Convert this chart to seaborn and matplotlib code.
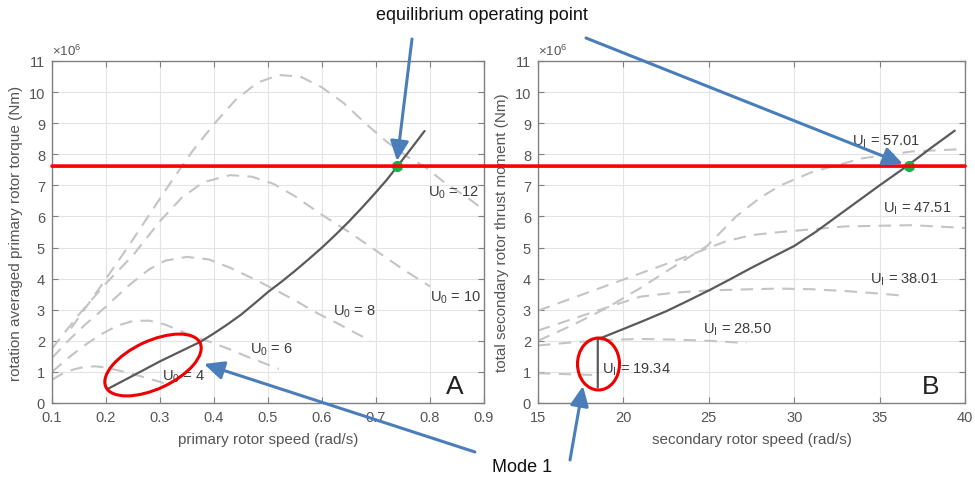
import numpy as np
import pandas as pd
import seaborn as sns
import matplotlib
matplotlib.use("Agg")
import matplotlib.pyplot as plt
from matplotlib.transforms import Affine2D
from matplotlib.patches import Ellipse, FancyArrowPatch, ConnectionPatch

# ---------------- data ----------------
# Panel A: primary rotor torque (x1e6 Nm) vs primary rotor speed (rad/s)
a_u4_x = [0.10, 0.12, 0.14, 0.16, 0.18, 0.20, 0.22, 0.24, 0.26, 0.28, 0.30, 0.31]
a_u4_y = [0.75, 0.95, 1.08, 1.16, 1.18, 1.14, 1.06, 0.97, 0.88, 0.78, 0.68, 0.62]
a_u6_x = [0.10, 0.13, 0.16, 0.19, 0.22, 0.25, 0.28, 0.31, 0.34, 0.37, 0.40, 0.43, 0.46, 0.49, 0.52]
a_u6_y = [1.00, 1.45, 1.85, 2.20, 2.48, 2.64, 2.65, 2.52, 2.30, 2.10, 1.92, 1.72, 1.50, 1.30, 1.10]
a_u8_x = [0.10, 0.13, 0.16, 0.20, 0.24, 0.28, 0.31, 0.35, 0.39, 0.43, 0.47, 0.51, 0.55, 0.59, 0.63, 0.66, 0.69]
a_u8_y = [1.45, 2.00, 2.50, 3.10, 3.75, 4.30, 4.58, 4.70, 4.62, 4.35, 4.02, 3.67, 3.30, 2.90, 2.55, 2.27, 2.00]
a_u10_x = [0.10, 0.15, 0.20, 0.25, 0.30, 0.34, 0.38, 0.43, 0.47, 0.51, 0.55, 0.60, 0.65, 0.70, 0.75, 0.80]
a_u10_y = [1.75, 2.85, 3.85, 4.75, 5.85, 6.60, 7.10, 7.33, 7.28, 7.05, 6.65, 6.05, 5.50, 4.90, 4.30, 3.75]
a_u12_x = [0.135, 0.17, 0.20, 0.24, 0.28, 0.32, 0.36, 0.40, 0.44, 0.48, 0.52, 0.56, 0.60, 0.64, 0.68,
           0.72, 0.76, 0.79, 0.83, 0.87, 0.90]
a_u12_y = [2.40, 3.25, 4.00, 5.00, 6.05, 7.10, 8.10, 8.97, 9.75, 10.30, 10.55, 10.50, 10.15, 9.65, 9.00,
           8.40, 7.90, 7.60, 7.05, 6.60, 6.20]
a_op_x = [0.205, 0.25, 0.30, 0.35, 0.375, 0.40, 0.425, 0.45, 0.475, 0.50, 0.525, 0.55, 0.575,
          0.60, 0.625, 0.65, 0.675, 0.70, 0.72, 0.74, 0.765, 0.79]
a_op_y = [0.47, 0.88, 1.34, 1.76, 1.97, 2.24, 2.53, 2.84, 3.20, 3.57, 3.90, 4.25, 4.62,
          5.00, 5.41, 5.84, 6.30, 6.78, 7.18, 7.62, 8.18, 8.75]
a_labels = ["U$_0$ = 4", "U$_0$ = 6", "U$_0$ = 8", "U$_0$ = 10", "U$_0$ = 12"]
a_label_x = [0.304, 0.467, 0.62, 0.80, 0.796]
a_label_y = [0.88, 1.74, 2.96, 3.40, 6.80]
a_eq = (0.739, 7.62)

# Panel B: total secondary rotor thrust moment (x1e6 Nm) vs secondary rotor speed (rad/s)
b_u19_x = [15.0, 16.5, 18.3]
b_u19_y = [0.96, 0.93, 0.90]
b_u28_x = [15.0, 17.0, 19.0, 21.0, 23.0, 25.0, 27.2]
b_u28_y = [1.85, 1.95, 2.03, 2.06, 2.04, 2.00, 1.93]
b_u38_x = [15.0, 17.0, 18.8, 21.0, 23.0, 25.0, 27.5, 29.2, 31.0, 33.0, 35.0, 36.2]
b_u38_y = [2.33, 2.70, 3.03, 3.42, 3.55, 3.62, 3.66, 3.68, 3.66, 3.60, 3.52, 3.46]
b_u47_x = [15.0, 17.0, 19.0, 21.0, 23.0, 24.9, 26.0, 27.5, 29.2, 33.0, 36.9, 40.0]
b_u47_y = [2.97, 3.37, 3.77, 4.17, 4.57, 4.97, 5.20, 5.40, 5.50, 5.68, 5.72, 5.63]
b_u57_x = [15.0, 17.0, 19.0, 21.0, 23.0, 24.9, 26.6, 28.0, 29.2, 31.1, 34.0, 36.9, 40.0]
b_u57_y = [2.00, 2.50, 3.05, 3.70, 4.40, 5.05, 6.00, 6.60, 7.00, 7.44, 7.87, 8.09, 8.17]
b_op_x = [18.5, 18.5, 20.0, 21.25, 22.5, 23.75, 25.0, 26.25, 27.5, 28.75, 30.0, 31.25, 32.5,
          33.75, 35.0, 36.6, 38.0, 39.4]
b_op_y = [0.50, 2.05, 2.38, 2.66, 2.95, 3.28, 3.62, 3.98, 4.35, 4.70, 5.05, 5.50, 6.00,
          6.50, 7.00, 7.62, 8.20, 8.76]
b_labels = ["U$_I$ = 19.34", "U$_I$ = 28.50", "U$_I$ = 38.01", "U$_I$ = 47.51", "U$_I$ = 57.01"]
b_label_x = [18.73, 24.68, 34.45, 35.2, 33.4]
b_label_y = [1.09, 2.38, 3.99, 6.29, 8.43]
b_eq = (36.7, 7.62)

eq_level = 7.62
yticks = list(range(0, 12))
a_xticks = [0.1, 0.2, 0.3, 0.4, 0.5, 0.6, 0.7, 0.8, 0.9]
b_xticks = [15, 20, 25, 30, 35, 40]

# ---------------- style ----------------
sns.set_style("white")
plt.rcParams["font.family"] = ["Liberation Sans", "DejaVu Sans"]
plt.rcParams["mathtext.fontset"] = "custom"
plt.rcParams["mathtext.rm"] = "Liberation Sans"
plt.rcParams["mathtext.it"] = "Liberation Sans"
plt.rcParams["mathtext.bf"] = "Liberation Sans:bold"

W, H = 975, 481
fig = plt.figure(figsize=(W / 100, H / 100), dpi=100)
pix = Affine2D().scale(1 / W, -1 / H).translate(0, 1) + fig.transFigure

axA = fig.add_axes([52 / W, (H - 404) / H, (484 - 52) / W, (404 - 62) / H])
axB = fig.add_axes([538 / W, (H - 404) / H, (965 - 538) / W, (404 - 62) / H])

dash_col = "#c4c4c4"
solid_col = "#5a5a5a"
tick_col = "#555555"
spine_col = "#808080"
dash_style = (0, (6, 4))


def draw_curve(ax, xs, ys, dashed=True):
    df = pd.DataFrame({"x": xs, "y": ys})
    if dashed:
        sns.lineplot(data=df, x="x", y="y", ax=ax, sort=False, estimator=None,
                     color=dash_col, lw=1.5, linestyle=dash_style)
    else:
        sns.lineplot(data=df, x="x", y="y", ax=ax, sort=False, estimator=None,
                     color=solid_col, lw=1.6)


for xs, ys in [(a_u4_x, a_u4_y), (a_u6_x, a_u6_y), (a_u8_x, a_u8_y),
               (a_u10_x, a_u10_y), (a_u12_x, a_u12_y)]:
    draw_curve(axA, xs, ys)
draw_curve(axA, a_op_x, a_op_y, dashed=False)

for xs, ys in [(b_u19_x, b_u19_y), (b_u28_x, b_u28_y), (b_u38_x, b_u38_y),
               (b_u47_x, b_u47_y), (b_u57_x, b_u57_y)]:
    draw_curve(axB, xs, ys)
draw_curve(axB, b_op_x, b_op_y, dashed=False)

for ax, xt, xlim, xlab, ylab in [
    (axA, a_xticks, (0.1, 0.9), "primary rotor speed (rad/s)",
     "rotation averaged primary rotor torque (Nm)"),
    (axB, b_xticks, (15, 40), "secondary rotor speed (rad/s)",
     "total secondary rotor thrust moment (Nm)")]:
    ax.set_xlim(*xlim)
    ax.set_ylim(0, 11)
    ax.set_xticks(xt)
    ax.set_yticks(yticks)
    if ax is axA:
        ax.set_xticklabels([f"{v:.1f}" for v in xt])
    else:
        ax.set_xticklabels([str(v) for v in xt])
    ax.set_yticklabels([str(v) for v in yticks])
    ax.grid(True, color="#e4e4e4", lw=0.8)
    ax.set_axisbelow(True)
    for s in ax.spines.values():
        s.set_visible(True)
        s.set_color(spine_col)
        s.set_linewidth(1.0)
    ax.tick_params(direction="in", length=4, width=0.8, color=spine_col,
                   labelsize=10.5, labelcolor=tick_col, pad=5,
                   top=True, right=True, bottom=True, left=True)
    ax.set_xlabel(xlab, fontsize=11, color=tick_col, labelpad=6)
    ax.set_ylabel(ylab, fontsize=11, color=tick_col, labelpad=4)
    ax.text(0.0, 1.008, r"$\times10^6$", transform=ax.transAxes, fontsize=9.5,
            color=tick_col, ha="left", va="bottom")

for lab, x, y in zip(a_labels, a_label_x, a_label_y):
    axA.text(x, y, lab, fontsize=10.5, color="#3c3c3c", ha="left", va="center")
for lab, x, y in zip(b_labels, b_label_x, b_label_y):
    axB.text(x, y, lab, fontsize=10.5, color="#3c3c3c", ha="left", va="center")

axA.text(0.83, 0.56, "A", fontsize=19, color="#222222", ha="left", va="center")
axB.text(37.45, 0.56, "B", fontsize=19, color="#222222", ha="left", va="center")

# red equilibrium line across both panels
con = ConnectionPatch(xyA=(0.1, eq_level), coordsA=axA.transData,
                      xyB=(40, eq_level), coordsB=axB.transData,
                      color="#ff0000", lw=2.6, zorder=5)
fig.add_artist(con)

# green equilibrium points
axA.plot([a_eq[0]], [a_eq[1]], "o", color="#12b34a", ms=7, zorder=6, clip_on=False)
axB.plot([b_eq[0]], [b_eq[1]], "o", color="#12b34a", ms=7, zorder=6, clip_on=False)

# red ellipses (Mode 1)
fig.add_artist(Ellipse((153, 366), 104, 48, angle=-25, transform=pix,
                       fill=False, ec="#ee0000", lw=2.2))
fig.add_artist(Ellipse((598.5, 365), 42, 52, angle=0, transform=pix,
                       fill=False, ec="#ee0000", lw=2.2))

# blue arrows
arrow_col = "#4a7ebb"
for (x0, y0), (x1, y1) in [((412, 40), (397, 162)),
                           ((586, 39), (903, 165)),
                           ((475, 453), (204, 365)),
                           ((570, 461), (583, 387))]:
    fig.add_artist(FancyArrowPatch((x0, y0), (x1, y1), transform=pix,
                                   arrowstyle="-|>,head_length=0.6,head_width=0.28",
                                   mutation_scale=20, color=arrow_col, lw=2.2,
                                   shrinkA=0, shrinkB=0, zorder=7))

fig.text(482 / W, 1 - 15 / H, "equilibrium operating point", fontsize=13,
         color="#111111", ha="center", va="center")
fig.text(522 / W, 1 - 468 / H, "Mode 1", fontsize=13, color="#111111",
         ha="center", va="center")

fig.savefig("out.png", dpi=100)
